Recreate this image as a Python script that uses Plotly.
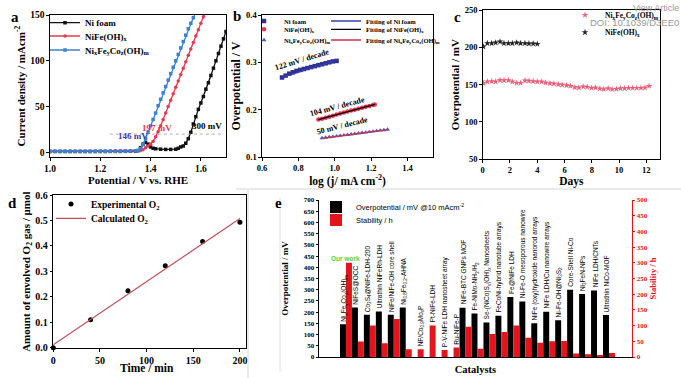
import plotly.graph_objects as go

W, H = 681, 378
SERIF = "Liberation Serif, 'Times New Roman', serif"
SANS = "Liberation Sans, Arial, sans-serif"

# ---------------- (a) polarisation curves ----------------
a_pot_nifoam = [1.00, 1.02, 1.04, 1.06, 1.08, 1.10, 1.12, 1.14, 1.16, 1.18, 1.20, 1.22, 1.24, 1.26,
                1.28, 1.30, 1.32, 1.34, 1.35, 1.36, 1.37, 1.38, 1.39, 1.40, 1.41, 1.42, 1.44, 1.46,
                1.48, 1.50, 1.51, 1.52, 1.53, 1.54, 1.55, 1.56, 1.57, 1.58, 1.59, 1.60, 1.61, 1.62,
                1.63, 1.64, 1.65, 1.66, 1.67, 1.68, 1.69, 1.70]
a_j_nifoam = [1.0, 1.0, 1.0, 1.0, 1.0, 1.0, 1.0, 1.0, 1.0, 1.0, 1.0, 1.0, 1.1, 1.1,
              1.1, 1.2, 1.3, 1.5, 2.0, 5.0, 9.0, 11.0, 9.0, 6.0, 4.5, 4.0, 3.5, 3.3,
              3.3, 3.5, 4.5, 6.0, 7.0, 10.0, 15.0, 22.0, 31.0, 39.0, 47.0, 54.0, 61.0, 69.0,
              76.0, 84.0, 92.0, 100.0, 108.0, 116.0, 124.0, 132.0]
a_pot_nife = [1.00, 1.02, 1.04, 1.06, 1.08, 1.10, 1.12, 1.14, 1.16, 1.18, 1.20, 1.22, 1.24, 1.26,
              1.28, 1.30, 1.32, 1.34, 1.36, 1.37, 1.38, 1.39, 1.40, 1.41, 1.42, 1.43, 1.44, 1.45,
              1.46, 1.47, 1.48, 1.49, 1.50, 1.51, 1.52, 1.53, 1.54, 1.55, 1.56, 1.57, 1.58, 1.59,
              1.60, 1.61, 1.62]
a_j_nife = [1.4, 1.4, 1.3, 1.3, 1.3, 1.3, 1.3, 1.3, 1.3, 1.3, 1.3, 1.4, 1.4, 1.4,
            1.5, 1.5, 1.6, 1.8, 2.1, 3.0, 5.0, 7.0, 9.0, 12.0, 17.0, 22.5, 29.0, 36.0,
            43.0, 50.0, 57.0, 64.0, 71.0, 78.0, 85.0, 92.0, 99.0, 106.0, 113.0, 120.0, 127.0, 134.0,
            141.0, 148.0, 155.0]
a_pot_nifeco = [1.00, 1.02, 1.04, 1.06, 1.08, 1.10, 1.12, 1.14, 1.16, 1.18, 1.20, 1.22, 1.24, 1.26,
                1.28, 1.30, 1.32, 1.34, 1.35, 1.36, 1.37, 1.38, 1.39, 1.40, 1.41, 1.42, 1.43, 1.44,
                1.45, 1.46, 1.47, 1.48, 1.49, 1.50, 1.51, 1.52, 1.53, 1.54, 1.55, 1.56, 1.57, 1.58]
a_j_nifeco = [1.3, 1.3, 1.2, 1.2, 1.2, 1.2, 1.2, 1.2, 1.2, 1.2, 1.3, 1.3, 1.3, 1.3,
              1.4, 1.4, 1.5, 1.7, 2.0, 4.0, 8.5, 15.0, 22.0, 29.0, 36.0, 43.0, 51.0, 58.0,
              65.0, 72.0, 79.0, 86.0, 93.0, 100.0, 107.0, 114.0, 121.0, 128.0, 135.0, 141.0, 147.0, 153.0]
a_onset_labels = ["146 mV", "197 mV", "300 mV"]
a_ref_current = 20

# ---------------- (b) Tafel plots ----------------
b_logj_nifoam = [0.71, 0.73, 0.75, 0.77, 0.79, 0.81, 0.83, 0.85, 0.87, 0.89, 0.91, 0.93, 0.95, 0.97, 0.99, 1.01]
b_eta_nifoam = [0.268, 0.272, 0.276, 0.279, 0.282, 0.284, 0.286, 0.288, 0.290, 0.292, 0.294, 0.296,
                0.298, 0.300, 0.302, 0.303]
b_logj_nife = [0.91, 0.93, 0.95, 0.97, 0.99, 1.01, 1.03, 1.05, 1.07, 1.09, 1.11, 1.13, 1.15, 1.17, 1.19, 1.21, 1.22]
b_eta_nife = [0.179, 0.181, 0.183, 0.185, 0.187, 0.190, 0.192, 0.194, 0.196, 0.198, 0.200, 0.202,
              0.204, 0.206, 0.208, 0.210, 0.211]
b_logj_nifeco = [0.93, 0.95, 0.97, 0.99, 1.01, 1.03, 1.05, 1.07, 1.09, 1.11, 1.13, 1.15, 1.17, 1.19,
                 1.21, 1.23, 1.25, 1.27, 1.29]
b_eta_nifeco = [0.140, 0.141, 0.142, 0.143, 0.144, 0.145, 0.146, 0.147, 0.148, 0.149, 0.150, 0.151,
                0.152, 0.153, 0.154, 0.155, 0.156, 0.157, 0.158]
b_fit_nifoam_x = [0.71, 1.01]
b_fit_nifoam_y = [0.268, 0.3046]
b_fit_nife_x = [0.91, 1.22]
b_fit_nife_y = [0.179, 0.211]
b_fit_nifeco_x = [0.93, 1.29]
b_fit_nifeco_y = [0.1395, 0.158]
b_slopes = ["122 mV / decade", "104 mV / decade", "50 mV / decade"]

# ---------------- (c) stability ----------------
c_days_nifeco = [0.05, 0.34, 0.66, 0.95, 1.27, 1.56, 1.88, 2.17, 2.49, 2.78, 3.10, 3.39, 3.70, 4.00,
                 4.32, 4.61, 4.93, 5.22, 5.54, 5.83, 6.15, 6.44, 6.76, 7.05, 7.37, 7.66, 7.98, 8.27,
                 8.59, 8.88, 9.20, 9.49, 9.80, 10.10, 10.40, 10.70, 11.00, 11.30, 11.60, 11.90, 12.20]
c_eta_nifeco = [151.8, 154.0, 154.5, 154.0, 156.0, 155.8, 155.8, 154.0, 152.2, 152.2, 155.4, 155.0,
                154.5, 154.0, 154.0, 152.7, 151.8, 151.3, 150.4, 149.6, 149.0, 148.2, 146.4, 146.0,
                147.3, 146.9, 145.5, 146.0, 144.6, 143.8, 145.0, 143.8, 144.2, 145.0, 145.0, 145.5,
                145.5, 145.5, 145.5, 146.0, 148.2]
c_days_nife = [0.05, 0.34, 0.66, 0.95, 1.27, 1.56, 1.88, 2.17, 2.49, 2.78, 3.10, 3.39, 3.70, 4.00]
c_eta_nife = [200.9, 205.4, 205.4, 206.2, 207.6, 205.4, 205.4, 205.4, 206.2, 205.4, 205.4, 205.0, 205.0, 204.5]

# ---------------- (d) Faradaic efficiency ----------------
d_time = [0, 40, 80, 120, 160, 200]
d_o2_exp = [0.0, 0.110, 0.224, 0.322, 0.417, 0.493]
d_time_calc = [0, 200]
d_o2_calc = [0.012, 0.508]

# ---------------- (e) comparison ----------------
e_catalysts = [
    "Ni<sub>x</sub>Fe<sub>y</sub>Co<sub>z</sub>(OH)<sub>m</sub>",
    "NiFeS@OCC",
    "Co<sub>3</sub>S<sub>4</sub>@NiFe-LDH-200",
    "Ultrathin NiFeRh-LDH",
    "NiFe/NiFe-OH core shell",
    "Ni<sub>0.8</sub>Fe<sub>0.2</sub>-AHNA",
    "NF/Co<sub>0.9</sub>Mo<sub>x</sub>P",
    "Pt-NiFe-LDH",
    "P-V-NiFe LDH nanosheet array",
    "Ru-NiFe-P",
    "NiFe-BTC GNPs MOF",
    "Fe-NiMo-NH<sub>3</sub>/H<sub>2</sub>",
    "Se-(NiCo)S<sub>x</sub>(OH)<sub>x</sub> Nanosheets",
    "FeCoNi-hybrid nanotube arrays",
    "Fe@NiFe LDH",
    "Ni-Fe-O mesoporous nanowire",
    "NiFe (oxy)hydroxide nanorod arrays",
    "NiFe LDH/Cu nanowire arrays",
    "Ni-Fe-OH@Ni<sub>3</sub>S<sub>2</sub>",
    "Core-Shell Ni-Co",
    "Ni<sub>3</sub>FeN-NPs",
    "NiFe LDH/CNTs",
    "Ultrathin NiCo-MOF",
]
e_overpotential = [146, 221, 188, 203, 188, 221, None, None, None, None, 220, 194, 154, 184,
                   267, 248, 151, 202, 164, 300, 281, 296, 187]
e_stability = [300, 49, 100, 44, 121, 25, 25, 100, 22, 30, 96, 26, 73, 80,
               100, 61, 45, 50, 51, 11, 9, 5, 13]

# ---------------- colours ----------------
BLACK = "#111111"
RED_A = "#e8384f"
BLUE_A = "#3b82d1"
NAVY = "#2e3192"
RED_E = "#e4141b"


def dx(l, r):
    return [l / W, r / W]


def dy(t, b):
    return [1 - b / H, 1 - t / H]


def axis(domain, rng, tickvals, anchor, title, tsize, fsize=9, fmt=None, standoff=2, **kw):
    d = dict(domain=domain, range=rng, tickvals=tickvals, anchor=anchor,
             showline=True, linecolor="black", linewidth=1.2, mirror=True,
             ticks="outside", ticklen=2.5, tickwidth=1, tickcolor="black",
             showgrid=False, zeroline=False,
             tickfont=dict(family=SERIF, size=fsize, color="black", weight="bold"),
             title=dict(text=title, standoff=standoff,
                        font=dict(family=SERIF, size=tsize, color="black", weight="bold")))
    if fmt:
        d["tickformat"] = fmt
    d.update(kw)
    return d


def leg(left_px, row_px, size, family=SERIF, weight="bold"):
    # one entry per legend box, centred vertically on the wanted row
    return dict(x=left_px / W, y=1 - row_px / H, xanchor="left", yanchor="middle",
                bgcolor="rgba(0,0,0,0)", borderwidth=0,
                font=dict(family=family, size=size, color="black", weight=weight))


fig = go.Figure()

# (a)
fig.add_trace(go.Scatter(x=a_pot_nifoam, y=a_j_nifoam, mode="lines+markers", name="Ni foam",
                         line=dict(color=BLACK, width=1.3), marker=dict(symbol="square", size=3.5),
                         xaxis="x", yaxis="y", legend="legend"))
fig.add_trace(go.Scatter(x=a_pot_nife, y=a_j_nife, mode="lines+markers", name="NiFe(OH)<sub>x</sub>",
                         line=dict(color=RED_A, width=1.3), marker=dict(symbol="circle", size=3.5),
                         xaxis="x", yaxis="y", legend="legend2"))
fig.add_trace(go.Scatter(x=a_pot_nifeco, y=a_j_nifeco, mode="lines+markers",
                         name="Ni<sub>x</sub>Fe<sub>y</sub>Co<sub>z</sub>(OH)<sub>m</sub>",
                         line=dict(color=BLUE_A, width=1.3), marker=dict(symbol="square", size=3.5),
                         xaxis="x", yaxis="y", legend="legend3"))

# (b)
fig.add_trace(go.Scatter(x=b_logj_nifoam, y=b_eta_nifoam, mode="markers", name="Ni foam",
                         marker=dict(symbol="square", size=4.5, color=NAVY),
                         xaxis="x2", yaxis="y2", legend="legend4"))
fig.add_trace(go.Scatter(x=b_logj_nife, y=b_eta_nife, mode="markers", name="NiFe(OH)<sub>x</sub>",
                         marker=dict(symbol="circle", size=4.5, color=RED_A),
                         xaxis="x2", yaxis="y2", legend="legend5"))
fig.add_trace(go.Scatter(x=b_logj_nifeco, y=b_eta_nifeco, mode="markers",
                         name="Ni<sub>x</sub>Fe<sub>y</sub>Co<sub>z</sub>(OH)<sub>m</sub>",
                         marker=dict(symbol="triangle-up", size=4.5, color="#4a5cb0"),
                         xaxis="x2", yaxis="y2", legend="legend6"))
fig.add_trace(go.Scatter(x=b_fit_nifoam_x, y=b_fit_nifoam_y, mode="lines", name="Fitting of Ni foam",
                         line=dict(color="#3a3aa8", width=1.3), xaxis="x2", yaxis="y2", legend="legend7"))
fig.add_trace(go.Scatter(x=b_fit_nife_x, y=b_fit_nife_y, mode="lines", name="Fitting of NiFe(OH)<sub>x</sub>",
                         line=dict(color="black", width=1.3), xaxis="x2", yaxis="y2", legend="legend8"))
fig.add_trace(go.Scatter(x=b_fit_nifeco_x, y=b_fit_nifeco_y, mode="lines",
                         name="Fitting of Ni<sub>x</sub>Fe<sub>y</sub>Co<sub>z</sub>(OH)<sub>m</sub>",
                         line=dict(color="#d0304e", width=1.3), xaxis="x2", yaxis="y2", legend="legend9"))

# (c)
fig.add_trace(go.Scatter(x=c_days_nifeco, y=c_eta_nifeco, mode="markers",
                         name="Ni<sub>x</sub>Fe<sub>y</sub>Co<sub>z</sub>(OH)<sub>m</sub>",
                         marker=dict(symbol="star", size=5, color="#e8607a"),
                         xaxis="x3", yaxis="y3", legend="legend10"))
fig.add_trace(go.Scatter(x=c_days_nife, y=c_eta_nife, mode="markers", name="NiFe(OH)<sub>x</sub>",
                         marker=dict(symbol="star", size=5, color="#222222"),
                         xaxis="x3", yaxis="y3", legend="legend11"))

# (d)
fig.add_trace(go.Scatter(x=d_time, y=d_o2_exp, mode="markers", name="Experimental O<sub>2</sub>",
                         marker=dict(symbol="circle", size=5, color="black"), cliponaxis=False,
                         xaxis="x4", yaxis="y4", legend="legend12"))
fig.add_trace(go.Scatter(x=d_time_calc, y=d_o2_calc, mode="lines", name="Calculated O<sub>2</sub>",
                         line=dict(color="#c0505c", width=1.2),
                         xaxis="x4", yaxis="y4", legend="legend13"))

# (e)
fig.add_trace(go.Bar(x=e_catalysts, y=e_overpotential, width=0.5, offset=-0.5,
                     marker=dict(color="black", line=dict(width=0)),
                     name="Overpotential / mV @10 mAcm<sup>-2</sup>",
                     xaxis="x5", yaxis="y5", legend="legend14"))
fig.add_trace(go.Bar(x=e_catalysts, y=e_stability, width=0.5, offset=0.0,
                     marker=dict(color=RED_E, line=dict(width=0)),
                     name="Stability / h", xaxis="x5", yaxis="y6", legend="legend15"))

annotations = []

# panel letters
for letter, (px, py) in zip("abcde", [(15, 17), (237, 16), (457, 17), (12, 203), (278, 203)]):
    annotations.append(dict(text=letter, x=px / W, y=1 - py / H, xref="paper", yref="paper",
                            showarrow=False, xanchor="center", yanchor="middle",
                            font=dict(family=SERIF, size=15, color="black", weight="bold")))

# (a) overpotential labels
for txt, xv, yv, col in zip(a_onset_labels, [1.33, 1.424, 1.624], [17.8, 26.9, 28.7],
                            ["#3b3ba8", RED_A, "black"]):
    annotations.append(dict(text=txt, x=xv, y=yv, xref="x", yref="y", showarrow=False,
                            xanchor="center", yanchor="middle",
                            font=dict(family=SERIF, size=9, color=col, weight="bold")))

# (b) slope labels
for txt, xv, yv, ang in zip(b_slopes, [0.824, 1.016, 1.044], [0.305, 0.207, 0.167], [-17, -15, -14]):
    annotations.append(dict(text=txt, x=xv, y=yv, xref="x2", yref="y2", showarrow=False,
                            textangle=ang, xanchor="center", yanchor="middle",
                            font=dict(family=SERIF, size=8, color="black", weight="bold")))

# (d) x-axis title, placed close under the tick labels as in the reference
annotations.append(dict(text="Time / min", x=146.7 / W, y=1 - 367.5 / H, xref="paper", yref="paper",
                        showarrow=False, xanchor="center", yanchor="middle",
                        font=dict(family=SERIF, size=11.5, color="black", weight="bold")))

# (e) catalyst labels above bars
for cat, ov, st in zip(e_catalysts, e_overpotential, e_stability):
    base = ov if ov is not None else st * 700 / 500
    annotations.append(dict(text=cat, x=cat, y=base, xref="x5", yref="y5", showarrow=False,
                            textangle=-90, xanchor="center", yanchor="bottom", yshift=1,
                            xshift=-2 if ov is not None else 3,
                            font=dict(family=SANS, size=6.5, color="black")))
annotations.append(dict(text="Our work", x=e_catalysts[0], y=1 - 258 / H, xref="x5", yref="paper",
                        showarrow=False, xanchor="center", yanchor="middle",
                        font=dict(family=SANS, size=6.5, color="#4cd04c", weight="bold")))

# watermark of the source page
annotations.append(dict(text="View Article", x=1, y=1 - 8 / H, xref="paper", yref="paper",
                        xanchor="right", yanchor="middle", showarrow=False,
                        font=dict(family=SANS, size=9, color="#9a9a9a")))
annotations.append(dict(text="DOI: 10.1039/D3EE0", x=1, y=1 - 22.5 / H, xref="paper", yref="paper",
                        xanchor="right", yanchor="middle", showarrow=False,
                        font=dict(family=SANS, size=9.5, color="#9a9a9a")))

shapes = [
    dict(type="line", xref="x domain", yref="y", x0=0.34, x1=0.97, y0=a_ref_current, y1=a_ref_current,
         line=dict(color="#9a9a9a", width=0.8, dash="dot")),
    dict(type="line", xref="paper", yref="paper", x0=236 / W, x1=1, y0=1 - 189 / H, y1=1 - 189 / H,
         line=dict(color="#d6d6d6", width=1)),
    dict(type="line", xref="paper", yref="paper", x0=248 / W, x1=248 / W, y0=0, y1=1 - 190 / H,
         line=dict(color="#d6d6d6", width=1)),
    dict(type="line", xref="paper", yref="paper", x0=280 / W, x1=280 / W, y0=1 - 372 / H, y1=1 - 198 / H,
         line=dict(color="#e0e0e0", width=1)),
]

fig.update_layout(
    width=W, height=H, autosize=False,
    margin=dict(l=0, r=0, t=0, b=0, autoexpand=False),
    paper_bgcolor="white", plot_bgcolor="white",
    barmode="overlay",
    annotations=annotations, shapes=shapes,
    xaxis=axis(dx(50, 226), [1.0, 1.7], [1.0, 1.2, 1.4, 1.6], "y", "Potential / V vs. RHE", 11,
               fsize=9.5, fmt=".1f", standoff=2),
    yaxis=axis(dy(15, 157), [-5, 150], [0, 50, 100, 150], "x", "Current density / mAcm<sup>-2</sup>", 11,
               fsize=9.5, standoff=2),
    xaxis2=axis(dx(262, 433), [0.6, 1.54], [0.6, 0.8, 1.0, 1.2, 1.4], "y2", "log (j/ mA cm<sup>-2</sup>)",
                11.5, fsize=8.5, fmt=".1f", standoff=2),
    yaxis2=axis(dy(15, 157), [0.1, 0.4], [0.1, 0.2, 0.3, 0.4], "x2", "Overpotential / V", 12,
                fsize=8.5, fmt=".1f", standoff=2),
    xaxis3=axis(dx(482.7, 660), [0, 13], [0, 2, 4, 6, 8, 10, 12], "y3", "Days", 11.5, fsize=8.5,
                standoff=2),
    yaxis3=axis(dy(10, 159.3), [50, 250], [50, 100, 150, 200, 250], "x3", "Overpotential / mV", 11,
                fsize=8.5, standoff=2),
    xaxis4=axis(dx(53.3, 246), [0, 206.5], [0, 50, 100, 150, 200], "y4", "", 11.5, fsize=10),
    yaxis4=axis(dy(195, 348.3), [-0.002, 0.6], [0.0, 0.1, 0.2, 0.3, 0.4, 0.5, 0.6], "x4",
                "Amount of envolved O<sub>2</sub> gas / μmol", 11, fsize=10, fmt=".1f", standoff=2),
    xaxis5=dict(domain=dx(319.3, 631.7), type="category", categoryorder="array",
                categoryarray=e_catalysts, range=[-2.23, 23.9], anchor="y5",
                showline=True, linecolor="black", linewidth=1.2, showticklabels=False,
                ticks="", showgrid=False, zeroline=False,
                title=dict(text="Catalysts", standoff=8,
                           font=dict(family=SERIF, size=10.5, color="black", weight="bold"))),
    yaxis5=dict(domain=dy(200, 357), range=[0, 700], dtick=50, tick0=0, anchor="x5",
                showline=True, linecolor="black", linewidth=1.2, ticks="outside", ticklen=2.5,
                tickcolor="black", showgrid=False, zeroline=False,
                tickfont=dict(family=SERIF, size=7, color="black", weight="bold"),
                title=dict(text="Overpotential / mV", standoff=13,
                           font=dict(family=SERIF, size=9, color="black", weight="bold"))),
    yaxis6=dict(range=[0, 500], dtick=50, tick0=0, overlaying="y5", side="right", anchor="x5",
                showline=True, linecolor=RED_E, linewidth=1.2, ticks="outside", ticklen=2.5,
                tickcolor=RED_E, showgrid=False, zeroline=False,
                tickfont=dict(family=SERIF, size=7, color=RED_E, weight="bold"),
                title=dict(text="Stability / h", standoff=0,
                           font=dict(family=SERIF, size=8.5, color=RED_E, weight="bold"))),
    # one legend box per entry, so each entry sits where the reference shows it
    legend=leg(45, 22.7, 9),
    legend2=leg(45, 36, 9),
    legend3=leg(45, 50, 9),
    legend4=leg(244, 21, 6.5),
    legend5=leg(244, 29.3, 6.5),
    legend6=leg(244, 40, 6.5),
    legend7=leg(326, 21, 6.5),
    legend8=leg(326, 29.3, 6.5),
    legend9=leg(326, 40, 6.5),
    legend10=leg(565, 15, 7.5),
    legend11=leg(565, 32.3, 7.5),
    legend12=leg(51, 204, 9.5),
    legend13=leg(51, 218.3, 9.5),
    legend14=leg(316, 207, 7.5, family=SANS, weight="normal"),
    legend15=leg(316, 220, 7.5, family=SANS, weight="normal"),
    showlegend=True,
)

# the page's default 8px body margin would push the 681x378 figure off the window
fig.write_html("out.html", config={"displayModeBar": False},
               post_script="document.body.style.margin='0px';")
